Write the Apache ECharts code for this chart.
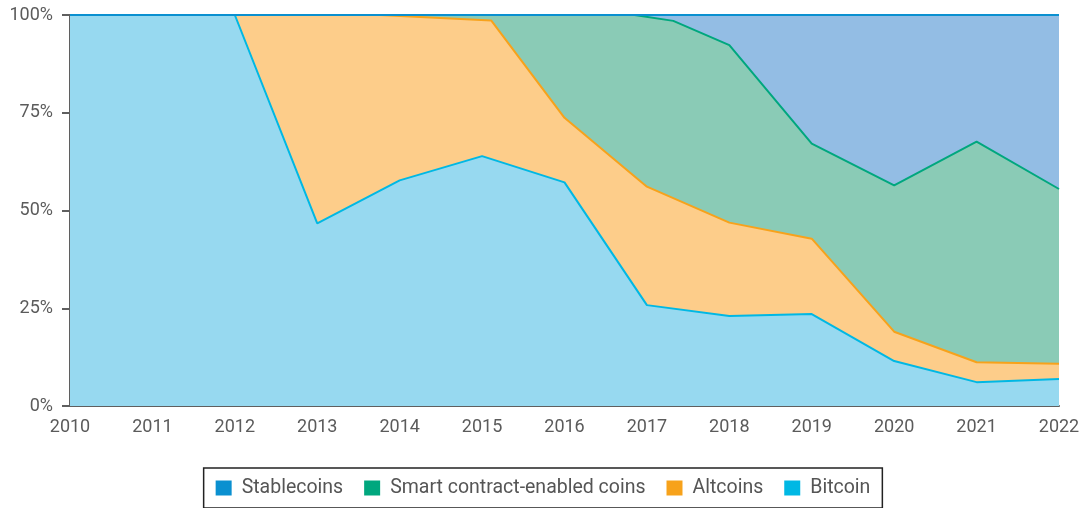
<!DOCTYPE html>
<html>
<head>
<meta charset="utf-8">
<script src="https://cdn.jsdelivr.net/npm/echarts@6/dist/echarts.min.js"></script>
<style>
html,body{margin:0;padding:0;background:#fff;}
#chart{width:1086px;height:508px;}
</style>
</head>
<body>
<div id="chart"></div>
<script>
// Upper boundary (cumulative share, %) of each band: [year, value]
const yearTicks = [2010, 2011, 2012, 2013, 2014, 2015, 2016, 2017, 2018, 2019, 2020, 2021, 2022];
const yTicks = [0, 25, 50, 75, 100];
const stablecoinsTop = [[2010, 100], [2022, 100]];
const smartContractTop = [[2010, 100], [2016, 100], [2016.85, 100], [2017.32, 98.5], [2018, 92.3], [2019, 67.1], [2020, 56.4], [2021, 67.6], [2022, 55.5]];
const altcoinsTop = [[2010, 100], [2013, 100], [2013.76, 100], [2015.11, 98.6], [2016, 73.7], [2017, 56.1], [2018, 46.9], [2019, 42.8], [2020, 19.0], [2021, 11.2], [2022, 10.8]];
const bitcoinTop = [[2010, 100], [2011, 100], [2012, 100], [2013, 46.7], [2014, 57.7], [2015, 63.9], [2016, 57.2], [2017, 25.8], [2018, 23.0], [2019, 23.5], [2020, 11.5], [2021, 6.1], [2022, 6.9]];

const names = ['Stablecoins', 'Smart contract-enabled coins', 'Altcoins', 'Bitcoin'];
const lineColors = ['#0a90d0', '#00a77e', '#f7a21b', '#00b8e4'];
const areaColors = ['#93bde4', '#8acbb6', '#fdcd8a', '#97d9f0'];
const tops = [stablecoinsTop, smartContractTop, altcoinsTop, bitcoinTop];

const FONT = 'Roboto';
const chart = echarts.init(document.getElementById('chart'), null, {renderer: 'canvas'});

const series = names.map((n, i) => {
  const s = {
    name: n,
    type: 'line',
    data: tops[i],
    symbol: 'none',
    animation: false,
    lineStyle: {color: lineColors[i], width: 2},
    itemStyle: {color: lineColors[i]},
    areaStyle: {color: areaColors[i], opacity: 1, origin: 'start'}
  };
  if (i === 0) {
    s.markLine = {
      silent: true,
      symbol: 'none',
      animation: false,
      label: {show: false},
      lineStyle: {color: lineColors[0], type: 'solid', width: 2},
      data: [{yAxis: 100}]
    };
  }
  return s;
});

chart.setOption({
  animation: false,
  grid: {left: 70, right: 27, top: 15, bottom: 102},
  xAxis: {
    type: 'value',
    min: yearTicks[0],
    max: yearTicks[yearTicks.length - 1],
    interval: 1,
    axisLine: {show: true, lineStyle: {color: '#5f5f5f', width: 2}},
    axisTick: {show: false},
    splitLine: {show: false},
    axisLabel: {
      color: '#5b5b5b', fontFamily: FONT, fontSize: 18, margin: 12,
      formatter: v => String(v)
    }
  },
  yAxis: {
    type: 'value',
    min: yTicks[0],
    max: yTicks[yTicks.length - 1],
    interval: 25,
    axisLine: {show: true, lineStyle: {color: '#5f5f5f', width: 2}},
    axisTick: {show: true, length: 8, lineStyle: {color: '#5f5f5f', width: 2}},
    splitLine: {show: false},
    axisLabel: {color: '#5b5b5b', fontFamily: FONT, fontSize: 18, margin: 17, formatter: '{value}%'}
  },
  legend: {
    data: names,
    left: 'center',
    top: 468,
    orient: 'horizontal',
    icon: 'rect',
    itemWidth: 16,
    itemHeight: 15,
    itemGap: 21,
    padding: [10, 12],
    borderColor: '#222',
    borderWidth: 1.5,
    textStyle: {color: '#555', fontFamily: FONT, fontSize: 19.5, padding: [0, 0, 0, 5]}
  },
  series: series
});
</script>
</body>
</html>
